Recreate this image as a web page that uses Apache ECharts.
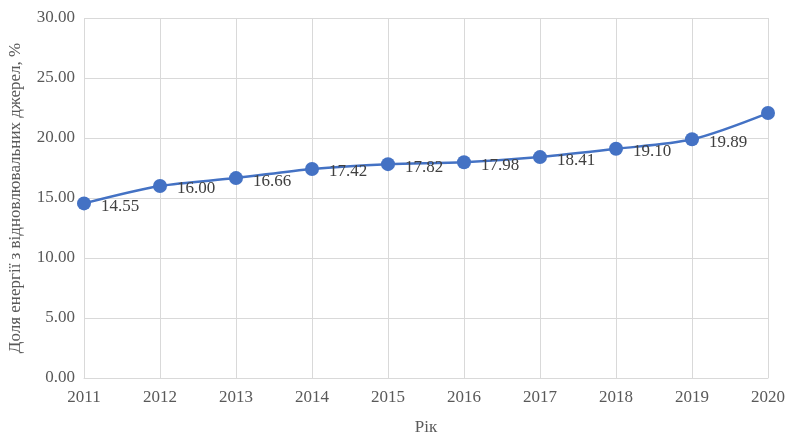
<!DOCTYPE html>
<html><head><meta charset="utf-8">
<script src="https://cdn.jsdelivr.net/npm/echarts@6/dist/echarts.min.js"></script>
<style>html,body{margin:0;padding:0;background:#fff}#c{width:786px;height:434px}</style>
</head><body><div id="c"></div>
<script>
const years = ['2011','2012','2013','2014','2015','2016','2017','2018','2019','2020'];
const shares = [14.55, 16.00, 16.66, 17.42, 17.82, 17.98, 18.41, 19.10, 19.89, 22.08];
const showLabel = [true,true,true,true,true,true,true,true,true,false];
const font = 'Liberation Serif';
const chart = echarts.init(document.getElementById('c'));
chart.setOption({
  animation:false,
  grid:{left:84,right:18,top:18,bottom:56,containLabel:false,outerBoundsMode:'none'},
  xAxis:{type:'category',data:years,boundaryGap:false,
    name:'Рік',nameLocation:'middle',nameGap:41,
    nameTextStyle:{fontFamily:font,fontSize:17,color:'#595959'},
    axisLine:{lineStyle:{color:'#d9d9d9'}},axisTick:{show:false},
    axisLabel:{fontFamily:font,fontSize:17,color:'#595959',margin:11},
    splitLine:{show:true,lineStyle:{color:'#d9d9d9'}}},
  yAxis:{type:'value',min:0,max:30,interval:5,
    name:'Доля енергії з відновлювальних джерел, %',nameLocation:'middle',nameGap:60,
    nameTextStyle:{fontFamily:font,fontSize:17,color:'#595959'},
    axisLabel:{fontFamily:font,fontSize:17,color:'#595959',margin:9,formatter:v=>v.toFixed(2)},
    axisLine:{show:false},axisTick:{show:false},
    splitLine:{lineStyle:{color:'#d9d9d9'}}},
  series:[{type:'line',smooth:0.3,
    data:shares.map((v,i)=>({value:v,label:{show:showLabel[i]}})),
    symbol:'circle',symbolSize:14,
    lineStyle:{color:'#4472C4',width:2.5},itemStyle:{color:'#4472C4'},
    label:{position:'right',distance:10,offset:[0,3],fontFamily:font,fontSize:17,color:'#404040',
      formatter:p=>p.value.toFixed(2)}}]
});
</script></body></html>
